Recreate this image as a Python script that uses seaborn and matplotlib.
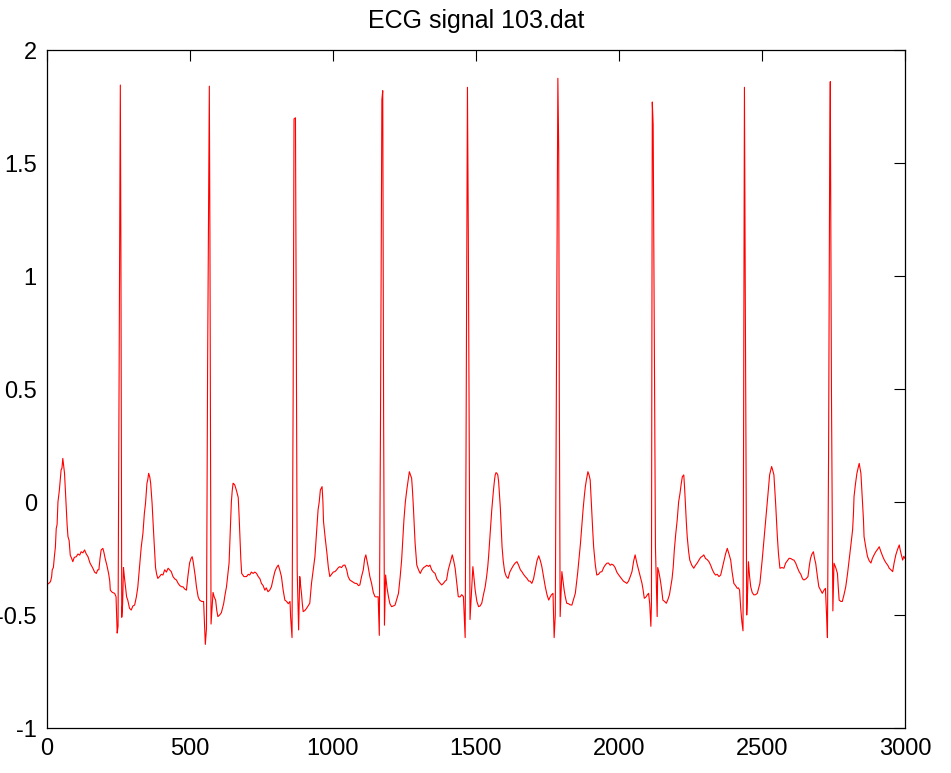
import matplotlib
matplotlib.use("Agg")
import matplotlib.pyplot as plt
import seaborn as sns
import numpy as np

sns.set_theme(style="white")
plt.rcParams['font.family'] = ['Liberation Sans', 'DejaVu Sans']
plt.rcParams['text.color'] = 'black'
plt.rcParams['xtick.color'] = 'black'
plt.rcParams['ytick.color'] = 'black'

# samples (sample index, amplitude)
sample_idx = [
    0, 8, 14, 18, 20, 24, 28, 31, 34, 37, 40, 45, 48, 51, 54, 57, 60, 63, 66, 69, 72, 75, 79, 83, 88, 92, 97,
    104, 110, 116, 121, 127, 133, 139, 145, 152, 162, 168, 174, 179, 183, 187, 191, 197, 201, 205, 211, 217,
    221, 223, 230, 238, 243, 247, 250, 255, 258, 260, 263, 266, 269, 272, 276, 280, 284, 290, 296, 302, 308,
    314, 319, 325, 331, 337, 342, 346, 351, 354, 357, 361, 364, 369, 375, 381, 385, 389, 395, 401, 407, 413,
    419, 425, 430, 436, 442, 448, 454, 460, 466, 472, 477, 483, 489, 494, 500, 505, 509, 512, 515, 520, 524,
    530, 535, 542, 549, 555, 559, 563, 569, 571, 575, 582, 586, 591, 595, 599, 605, 611, 615, 619, 624, 629,
    633, 638, 642, 646, 649, 652, 655, 658, 664, 670, 673, 676, 679, 682, 690, 699, 705, 710, 716, 722, 728,
    734, 740, 746, 751, 757, 763, 768, 774, 780, 786, 792, 798, 804, 810, 815, 821, 827, 833, 839, 845, 851,
    853, 858, 862, 865, 870, 872, 876, 881, 885, 888, 891, 894, 897, 903, 909, 914, 920, 926, 932, 938, 943,
    949, 953, 957, 960, 963, 966, 968, 974, 980, 985, 990, 996, 1002, 1008, 1014, 1020, 1025, 1031, 1037,
    1043, 1049, 1054, 1060, 1066, 1072, 1078, 1084, 1090, 1095, 1101, 1107, 1112, 1116, 1120, 1124, 1130,
    1136, 1142, 1148, 1154, 1159, 1163, 1167, 1172, 1175, 1178, 1181, 1185, 1190, 1195, 1200, 1206, 1212,
    1218, 1224, 1230, 1236, 1241, 1245, 1249, 1254, 1259, 1264, 1268, 1272, 1276, 1279, 1282, 1285, 1288,
    1294, 1300, 1306, 1312, 1318, 1323, 1329, 1335, 1340, 1346, 1352, 1358, 1364, 1370, 1376, 1381, 1387,
    1393, 1398, 1404, 1410, 1414, 1418, 1423, 1428, 1434, 1439, 1445, 1451, 1457, 1463, 1466, 1471, 1474,
    1480, 1485, 1490, 1494, 1498, 1504, 1510, 1515, 1521, 1527, 1533, 1538, 1542, 1545, 1548, 1552, 1556,
    1559, 1562, 1565, 1568, 1571, 1574, 1577, 1580, 1583, 1586, 1589, 1592, 1596, 1601, 1607, 1613, 1619,
    1626, 1632, 1638, 1644, 1650, 1656, 1661, 1667, 1673, 1679, 1685, 1690, 1696, 1702, 1708, 1714, 1720,
    1726, 1731, 1737, 1743, 1749, 1755, 1760, 1765, 1770, 1774, 1778, 1783, 1787, 1790, 1792, 1795, 1801,
    1805, 1809, 1813, 1818, 1824, 1830, 1836, 1842, 1848, 1852, 1856, 1861, 1866, 1871, 1875, 1879, 1883,
    1887, 1892, 1896, 1900, 1903, 1906, 1909, 1912, 1918, 1923, 1929, 1935, 1941, 1947, 1952, 1958, 1964,
    1970, 1975, 1981, 1987, 1993, 1998, 2004, 2010, 2016, 2022, 2028, 2034, 2040, 2046, 2052, 2057, 2063,
    2069, 2075, 2081, 2085, 2089, 2095, 2100, 2104, 2108, 2112, 2114, 2117, 2120, 2123, 2128, 2134, 2136,
    2140, 2145, 2150, 2154, 2160, 2166, 2172, 2177, 2182, 2186, 2190, 2194, 2199, 2204, 2209, 2214, 2218,
    2222, 2227, 2230, 2233, 2236, 2239, 2244, 2248, 2255, 2262, 2268, 2274, 2280, 2286, 2292, 2297, 2303,
    2309, 2315, 2321, 2327, 2333, 2338, 2344, 2350, 2356, 2362, 2367, 2373, 2379, 2385, 2391, 2396, 2402,
    2408, 2414, 2418, 2422, 2426, 2430, 2434, 2436, 2439, 2442, 2447, 2450, 2453, 2457, 2461, 2466, 2472,
    2478, 2484, 2489, 2493, 2497, 2501, 2505, 2509, 2514, 2519, 2523, 2527, 2531, 2534, 2538, 2542, 2545,
    2548, 2551, 2554, 2558, 2563, 2570, 2577, 2583, 2589, 2595, 2601, 2607, 2612, 2618, 2624, 2630, 2636,
    2642, 2647, 2654, 2661, 2666, 2670, 2675, 2680, 2684, 2688, 2694, 2699, 2705, 2711, 2717, 2722, 2726,
    2729, 2733, 2737, 2739, 2743, 2748, 2752, 2758, 2764, 2767, 2770, 2776, 2781, 2787, 2793, 2799, 2805,
    2811, 2817, 2820, 2822, 2827, 2832, 2836, 2840, 2843, 2846, 2849, 2852, 2855, 2857, 2863, 2869, 2875,
    2881, 2886, 2892, 2898, 2904, 2910, 2916, 2922, 2928, 2934, 2940, 2945, 2951, 2957, 2962, 2968, 2974,
    2980, 2983, 2986, 2992, 2996, 3000,
]
amplitude = [
    -0.367, -0.36, -0.352, -0.33, -0.30, -0.29, -0.235, -0.2, -0.117, -0.1, 0.0, 0.053, 0.1, 0.142, 0.15,
    0.193, 0.16, 0.127, 0.05, -0.035, -0.1, -0.153, -0.17, -0.235, -0.25, -0.264, -0.245,
    -0.242, -0.23, -0.235, -0.22, -0.225, -0.212, -0.23, -0.242, -0.27, -0.293, -0.31, -0.316, -0.3, -0.30,
    -0.25, -0.212, -0.205, -0.225, -0.25, -0.28, -0.316,
    -0.35, -0.39, -0.40, -0.404, -0.419, -0.58, -0.55, 0.9, 1.845, 1.1, -0.51, -0.45, -0.29, -0.33, -0.377,
    -0.42, -0.434, -0.47, -0.478, -0.46, -0.456,
    -0.42, -0.377, -0.29, -0.2, -0.138, -0.05, -0.006, 0.083, 0.1, 0.127, 0.11, 0.083, -0.006, -0.153, -0.29,
    -0.32, -0.338, -0.33, -0.32, -0.323, -0.3,
    -0.31, -0.293, -0.3, -0.308, -0.33, -0.34, -0.345, -0.36, -0.37, -0.375, -0.375, -0.385, -0.39, -0.33,
    -0.27, -0.25, -0.242, -0.26, -0.286, -0.33, -0.375,
    -0.42, -0.434, -0.44, -0.44, -0.63, -0.56, 0.6, 1.84, 1.2, -0.54, -0.40, -0.42, -0.434, -0.48, -0.507,
    -0.5, -0.49, -0.47, -0.45, -0.41, -0.375,
    -0.33, -0.27, -0.14, 0.0, 0.05, 0.083, 0.08, 0.075, 0.05, 0.02, -0.06, -0.153, -0.25, -0.316, -0.33,
    -0.33, -0.32, -0.323, -0.31, -0.316, -0.31,
    -0.316, -0.33, -0.34, -0.36, -0.37, -0.39, -0.38, -0.397, -0.39, -0.375, -0.34, -0.308, -0.29, -0.279,
    -0.3, -0.33, -0.39, -0.434, -0.44, -0.45, -0.44,
    -0.507, -0.6, 0.5, 1.695, 1.70, 1.0, -0.3, -0.566, -0.33, -0.37, -0.404, -0.45, -0.485, -0.48, -0.47,
    -0.46, -0.448, -0.36, -0.3, -0.242, -0.15,
    -0.035, 0.0, 0.053, 0.06, 0.068, 0.0, -0.086, -0.16, -0.227, -0.29, -0.33, -0.32, -0.31, -0.308, -0.3,
    -0.29, -0.286, -0.29, -0.28,
    -0.279, -0.3, -0.33, -0.345, -0.35, -0.355, -0.36, -0.36, -0.37, -0.367, -0.33, -0.30, -0.25, -0.234,
    -0.26, -0.286, -0.33,
    -0.36, -0.4, -0.419, -0.42, -0.419, -0.59, 0.3, 1.78, 1.82, 0.4, -0.545, -0.323, -0.38, -0.419, -0.45,
    -0.463, -0.46,
    -0.456, -0.43, -0.404, -0.33, -0.257, -0.17, -0.08, 0.0, 0.053, 0.1, 0.134, 0.12, 0.105, 0.05, -0.02,
    -0.1, -0.18,
    -0.279, -0.3, -0.316, -0.3, -0.29, -0.286, -0.28, -0.285, -0.279, -0.3, -0.31, -0.316, -0.34, -0.35,
    -0.36, -0.367, -0.36,
    -0.35, -0.345, -0.3, -0.271, -0.25, -0.234, -0.26, -0.293, -0.36, -0.419, -0.42, -0.41, -0.419, -0.6,
    0.2, 1.835, 1.2,
    -0.52, -0.4, -0.286, -0.34, -0.39, -0.44, -0.463, -0.46, -0.448, -0.41, -0.375, -0.33, -0.286, -0.24,
    -0.183, -0.1, -0.035,
    0.01, 0.053, 0.09, 0.12, 0.13, 0.127, 0.12, 0.09, 0.03, -0.027, -0.11, -0.198, -0.26, -0.308, -0.33,
    -0.338, -0.31,
    -0.293, -0.28, -0.27, -0.264, -0.28, -0.3, -0.308, -0.32, -0.33, -0.338, -0.35, -0.35, -0.36, -0.34,
    -0.30, -0.26, -0.238,
    -0.26, -0.286, -0.33, -0.375, -0.41, -0.434, -0.42, -0.41, -0.404, -0.6, -0.5, 0.8, 1.875, 1.55, 0.5,
    -0.507, -0.308,
    -0.35, -0.39, -0.42, -0.448, -0.45, -0.455, -0.456, -0.43, -0.404, -0.36, -0.316, -0.25, -0.183, -0.1,
    -0.035, 0.02, 0.068,
    0.1, 0.134, 0.12, 0.097, 0.02, -0.065, -0.13, -0.198, -0.28, -0.323, -0.32, -0.31, -0.308, -0.29, -0.28,
    -0.271, -0.27,
    -0.28, -0.275, -0.279, -0.29, -0.31, -0.32, -0.33, -0.34, -0.35, -0.355, -0.36, -0.35, -0.33, -0.308,
    -0.26, -0.234, -0.27,
    -0.30, -0.33, -0.36, -0.39, -0.426, -0.42, -0.41, -0.404, -0.45, -0.55, -0.45, 1.77, 1.67, 1.0, -0.2,
    -0.507, -0.29,
    -0.31, -0.345, -0.39, -0.434, -0.44, -0.448, -0.43, -0.41, -0.37, -0.34, -0.29, -0.212, -0.14, -0.08,
    0.0, 0.04, 0.08,
    0.112, 0.12, 0.06, -0.02, -0.09, -0.153, -0.22, -0.257, -0.28, -0.293, -0.28, -0.27, -0.257, -0.245,
    -0.24, -0.234, -0.25,
    -0.255, -0.264, -0.28, -0.3, -0.315, -0.323, -0.32, -0.33, -0.323, -0.29, -0.264, -0.23, -0.205, -0.23,
    -0.257, -0.31, -0.36,
    -0.37, -0.382, -0.38, -0.39, -0.47, -0.53, -0.57, 0.3, 1.835, 0.9, -0.50, -0.4, -0.264, -0.33, -0.375,
    -0.40, -0.411,
    -0.41, -0.404, -0.38, -0.36, -0.31, -0.257, -0.2, -0.138, -0.07, -0.006, 0.06, 0.12, 0.14, 0.157, 0.14,
    0.12, 0.06,
    -0.006, -0.08, -0.153, -0.23, -0.293, -0.29, -0.293, -0.27, -0.26, -0.249, -0.25, -0.255, -0.257, -0.27,
    -0.29, -0.308, -0.32,
    -0.34, -0.345, -0.34, -0.33, -0.28, -0.249, -0.23, -0.22, -0.25, -0.271, -0.33, -0.375, -0.39, -0.404,
    -0.39, -0.382, -0.5,
    -0.6, 0.2, 1.55, 1.86, 0.5, -0.482, -0.271, -0.29, -0.316, -0.38, -0.434, -0.44, -0.44, -0.41, -0.375,
    -0.32, -0.257,
    -0.19, -0.123, -0.05, 0.024, 0.08, 0.127, 0.15, 0.171, 0.15, 0.127, 0.06, 0.0, -0.08, -0.153, -0.2,
    -0.241, -0.26,
    -0.27, -0.25, -0.234, -0.22, -0.21, -0.198, -0.22, -0.24, -0.257, -0.27, -0.28, -0.293, -0.3, -0.308,
    -0.27, -0.234, -0.21,
    -0.19, -0.21, -0.227, -0.257, -0.24, -0.25,
]

x_ticks = [0, 500, 1000, 1500, 2000, 2500, 3000]
y_ticks = [-1, -0.5, 0, 0.5, 1, 1.5, 2]
y_tick_labels = ["-1", "-0.5", "0", "0.5", "1", "1.5", "2"]

fig = plt.figure(figsize=(9.51, 7.73), dpi=100)
ax = fig.add_axes([0.0489, 0.0582, 0.9027, 0.8771])

sns.lineplot(x=np.array(sample_idx), y=np.array(amplitude), ax=ax,
             color="red", linewidth=0.8, estimator=None, sort=False)

ax.set_xlim(0, 3000)
ax.set_ylim(-1, 2)
ax.set_xticks(x_ticks)
ax.set_xticklabels([str(t) for t in x_ticks])
ax.set_yticks(y_ticks)
ax.set_yticklabels(y_tick_labels)
ax.set_xlabel("")
ax.set_ylabel("")

ax.tick_params(direction="in", length=8, width=0.8, color="black", labelcolor="black",
               top=True, right=True, labelsize=17, pad=7)
for sp in ax.spines.values():
    sp.set_color("black")
    sp.set_linewidth(0.9)
    sp.set_visible(True)

ax.set_title("ECG signal 103.dat", fontsize=18, pad=16, color="black")

plt.savefig("out.png", dpi=100)
plt.close()
